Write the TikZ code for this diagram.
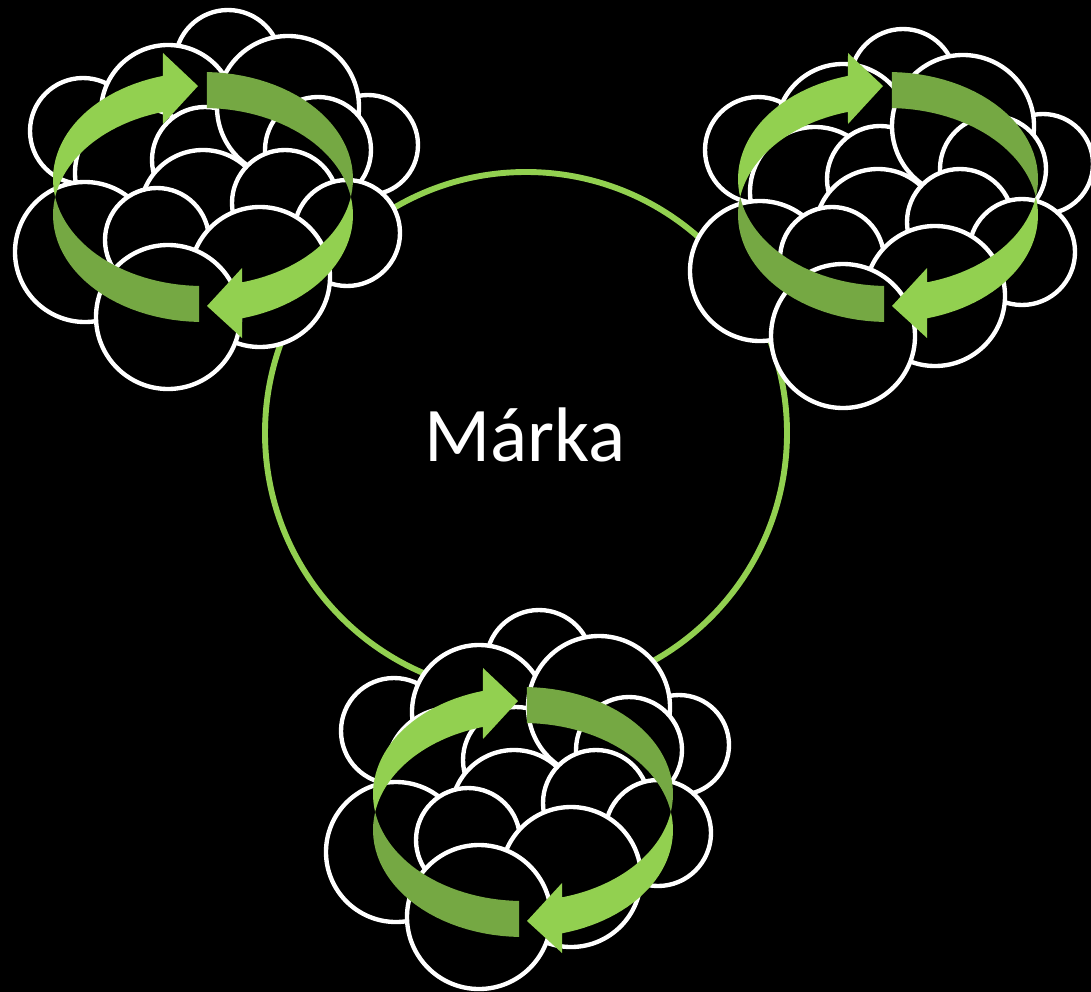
\documentclass[tikz,border=0pt]{standalone}
\usepackage{fontspec}
\setmainfont{Carlito}
\definecolor{lightgreen}{HTML}{92D050}
\definecolor{darkgreen}{HTML}{75A843}
\begin{document}
\begin{tikzpicture}[x=0.025cm,y=-0.025cm,
  bubble/.style={draw=white,line width=3.1pt,fill=black},
  brandring/.style={draw=lightgreen,line width=4.2pt},
  lightarrow/.style={fill=lightgreen},
  darkarrow/.style={fill=darkgreen},
  brandtext/.style={text=white,font=\fontsize{55}{62}\selectfont,anchor=base}]
\fill[black] (0,0) rectangle (1091,992);
\useasboundingbox (0,0) rectangle (1091,992);
\draw[brandring] (526,433) circle[radius=261];
\node[brandtext] (brand) at (525,461) {Márka};
% three clusters: circle shift / arrow shift
\foreach \cx/\cy/\ax/\ay in {0/0/0/0, 675/19/685/0, 311/600/320/615}{
  \begin{scope}[shift={(\cx,\cy)}]
    \foreach \px/\py/\r in {228/63/53, 368/145/50, 83/131/53, 168/112/67,
        140/173/65, 205/160/53, 288/107/71, 318/150/53, 203/213/63,
        285/203/53, 85/252/70, 157/240/52, 347/233/53, 260/277/70, 168/317/72}
      \draw[bubble] (\px,\py) circle[radius=\r];
  \end{scope}
  \begin{scope}[shift={(\ax,\ay)}]
    \fill[lightarrow] plot[domain=170.3:254.5,samples=30] ({203+150*cos(\x)},{179+107*sin(\x)})
      -- (163,53) -- (198,86) -- (163,124)
      -- plot[domain=254.5:189.7,samples=30] ({203+150*cos(\x)},{215+107*sin(\x)}) -- cycle;
    \fill[darkarrow] plot[domain=271.5:369.7,samples=30] ({203+150*cos(\x)},{179+107*sin(\x)})
      -- plot[domain=350.3:271.5,samples=30] ({203+150*cos(\x)},{215+107*sin(\x)}) -- cycle;
    \fill[lightarrow] plot[domain=9.7:74.9,samples=30] ({203+150*cos(\x)},{179+107*sin(\x)})
      -- (242,268) -- (207,306) -- (242,338)
      -- plot[domain=74.9:-9.7,samples=30] ({203+150*cos(\x)},{215+107*sin(\x)}) -- cycle;
    \fill[darkarrow] plot[domain=91.5:170.3,samples=30] ({203+150*cos(\x)},{179+107*sin(\x)})
      -- plot[domain=189.7:91.5,samples=30] ({203+150*cos(\x)},{215+107*sin(\x)}) -- cycle;
  \end{scope}
}
\end{tikzpicture}
\end{document}
